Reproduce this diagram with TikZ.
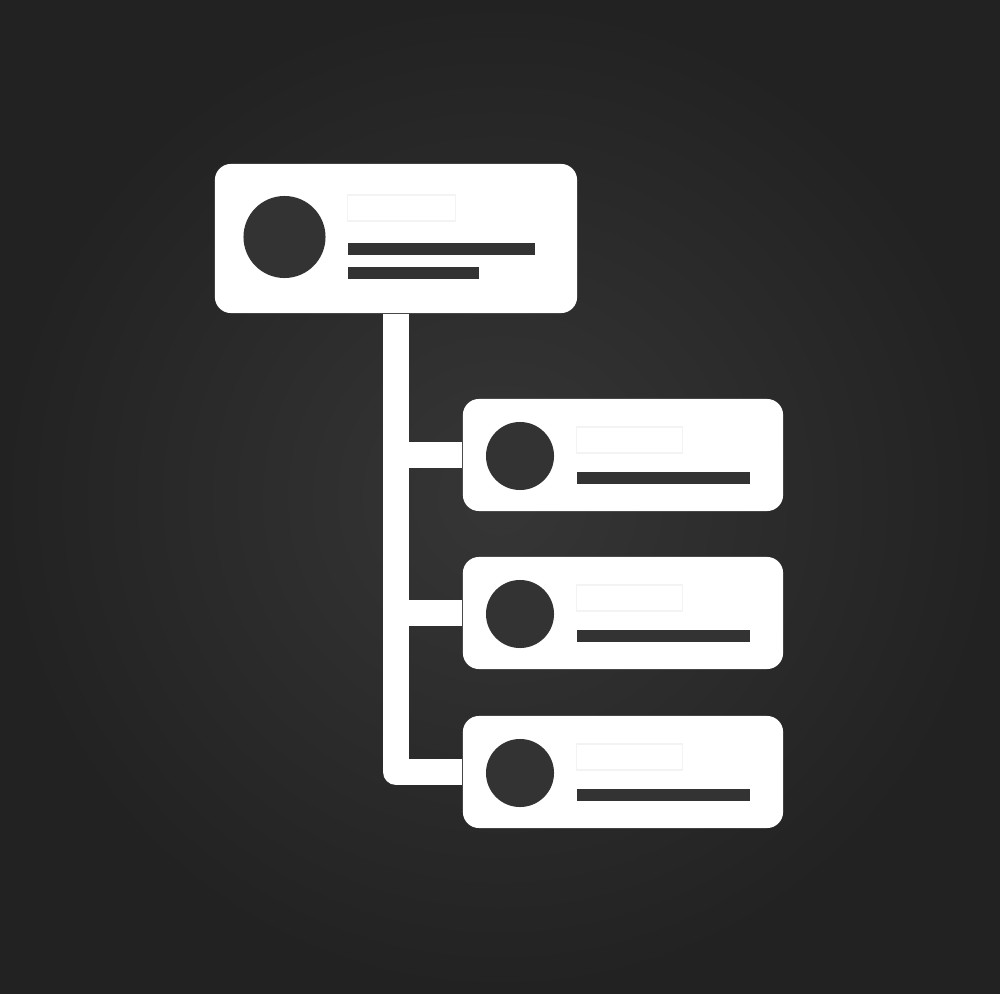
\documentclass[tikz,border=0pt]{standalone}
\usepackage{xcolor}
\usepackage{tikz}
\usetikzlibrary{calc}

\definecolor{bgmid}{HTML}{363636}
\definecolor{bgedge}{HTML}{222222}
\definecolor{ink}{HTML}{333333}
\definecolor{ghost}{HTML}{F3F3F3}

\tikzset{
	card/.style={fill=white, rounded corners=0.16cm, inner sep=0pt},
	dot/.style={circle, fill=ink, inner sep=0pt},
	bar/.style={fill=ink, inner sep=0pt, anchor=west},
	ghostbox/.style={draw=ghost, line width=0.4pt, inner sep=0pt, anchor=west},
	link/.style={draw=white, line width=0.26cm, line join=round}
}

\begin{document}
\begin{tikzpicture}[x=0.01cm, y=-0.01cm]
			\useasboundingbox (0,0) rectangle (1000,994);
			\shade[inner color=bgmid, outer color=bgedge] (0,0) rectangle (1000,994);

			% head card
			\node[card, minimum width=3.62cm, minimum height=1.49cm] (top) at (396,238.5) {};
			\node[dot, minimum size=0.82cm] (topdot) at (284.5,237) {};
			\node[ghostbox, minimum width=1.08cm, minimum height=0.26cm] (topghost) at (347,208) {};
			\node[bar, minimum width=1.87cm, minimum height=0.125cm] (topbara) at (347,249) {};
			\node[bar, minimum width=1.31cm, minimum height=0.125cm] (topbarb) at (347,273) {};

			% child cards
			\foreach \n/\y in {1/455,2/613,3/772}
			{
				\node[card, minimum width=3.20cm, minimum height=1.12cm] (c\n) at (623,\y) {};
				\node[dot, minimum size=0.68cm] (c\n dot) at (520,\y+1) {};
				\node[ghostbox, minimum width=1.06cm, minimum height=0.26cm] (c\n ghost) at (576,\y-15) {};
				\node[bar, minimum width=1.73cm, minimum height=0.12cm] (c\n bar) at (576,\y+23) {};
			}

			% connectors
			\draw[link] (top.south) |- (c3.west);
			\draw[link] (top.south |- c1.west) -- (c1.west);
			\draw[link] (top.south |- c2.west) -- (c2.west);
		\end{tikzpicture}
\end{document}
